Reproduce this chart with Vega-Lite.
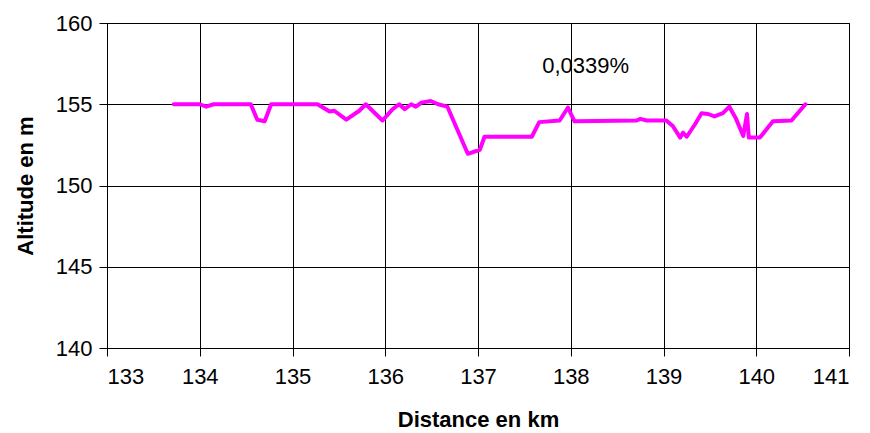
{
  "$schema": "https://vega.github.io/schema/vega-lite/v6.json",
  "width": 742,
  "height": 325,
  "autosize": {"type": "none"},
  "padding": {"left": 107, "top": 23, "right": 21, "bottom": 85},
  "background": "white",
  "config": {
    "font": "Liberation Sans",
    "view": {"stroke": "#000000", "strokeWidth": 1},
    "axis": {
      "domainColor": "#000000",
      "tickColor": "#000000",
      "gridColor": "#000000",
      "gridOpacity": 1,
      "labelColor": "#000000",
      "titleColor": "#000000",
      "labelFont": "Liberation Sans",
      "titleFont": "Liberation Sans",
      "labelFontSize": 22,
      "titleFontSize": 22,
      "titleFontWeight": "bold",
      "tickSize": 8
    }
  },
  "data": {
    "values": [
      {"d": 133.72, "a": 155.0},
      {"d": 133.9, "a": 155.0},
      {"d": 134.0, "a": 155.0},
      {"d": 134.07, "a": 154.85},
      {"d": 134.15, "a": 155.0},
      {"d": 134.55, "a": 155.0},
      {"d": 134.62, "a": 154.05},
      {"d": 134.7, "a": 153.95},
      {"d": 134.77, "a": 155.0},
      {"d": 135.27, "a": 155.0},
      {"d": 135.4, "a": 154.55},
      {"d": 135.45, "a": 154.6},
      {"d": 135.58, "a": 154.05},
      {"d": 135.72, "a": 154.6},
      {"d": 135.79, "a": 155.0},
      {"d": 135.97, "a": 154.0},
      {"d": 136.08, "a": 154.7},
      {"d": 136.15, "a": 155.0},
      {"d": 136.21, "a": 154.7},
      {"d": 136.28, "a": 155.0},
      {"d": 136.33, "a": 154.85},
      {"d": 136.39, "a": 155.1},
      {"d": 136.49, "a": 155.2},
      {"d": 136.57, "a": 155.0},
      {"d": 136.67, "a": 154.85},
      {"d": 136.89, "a": 151.95},
      {"d": 137.02, "a": 152.2},
      {"d": 137.07, "a": 153.0},
      {"d": 137.58, "a": 153.0},
      {"d": 137.66, "a": 153.9},
      {"d": 137.88, "a": 154.0},
      {"d": 137.97, "a": 154.8},
      {"d": 138.04, "a": 153.95},
      {"d": 138.71, "a": 154.0},
      {"d": 138.75, "a": 154.1},
      {"d": 138.82, "a": 154.0},
      {"d": 139.03, "a": 154.0},
      {"d": 139.1, "a": 153.66},
      {"d": 139.18, "a": 152.95},
      {"d": 139.21, "a": 153.25},
      {"d": 139.25, "a": 153.0},
      {"d": 139.34, "a": 153.77},
      {"d": 139.41, "a": 154.45},
      {"d": 139.48, "a": 154.4},
      {"d": 139.55, "a": 154.25},
      {"d": 139.64, "a": 154.45},
      {"d": 139.71, "a": 154.85},
      {"d": 139.78, "a": 154.13},
      {"d": 139.86, "a": 153.05},
      {"d": 139.9, "a": 154.4},
      {"d": 139.92, "a": 152.95},
      {"d": 140.04, "a": 152.95},
      {"d": 140.18, "a": 153.95},
      {"d": 140.38, "a": 154.0},
      {"d": 140.53, "a": 155.0}
    ]
  },
  "layer": [
    {
      "mark": {"type": "line", "color": "#FF00FF", "strokeWidth": 4, "strokeJoin": "round", "strokeCap": "round"},
      "encoding": {
        "x": {
          "field": "d", "type": "quantitative",
          "scale": {"domain": [133, 141], "nice": false, "zero": false},
          "axis": {"title": "Distance en km", "format": "d", "values": [133, 134, 135, 136, 137, 138, 139, 140, 141], "labelPadding": 10, "titlePadding": 22}
        },
        "y": {
          "field": "a", "type": "quantitative",
          "scale": {"domain": [140, 160], "nice": false, "zero": false},
          "axis": {"title": "Altitude en m", "values": [140, 145, 150, 155, 160], "labelPadding": 7, "titlePadding": 18}
        }
      }
    },
    {
      "data": {"values": [{"d": 138.16, "a": 157.35, "label": "0,0339%"}]},
      "mark": {"type": "text", "fontSize": 22, "font": "Liberation Sans", "color": "#000000", "align": "center", "baseline": "middle"},
      "encoding": {
        "x": {"field": "d", "type": "quantitative"},
        "y": {"field": "a", "type": "quantitative"},
        "text": {"field": "label"}
      }
    }
  ]
}
